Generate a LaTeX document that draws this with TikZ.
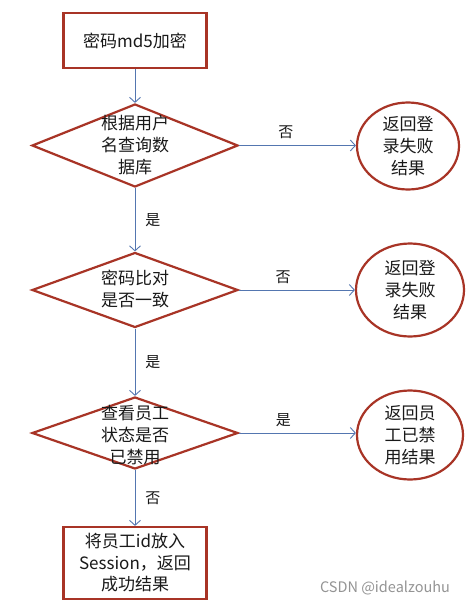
\documentclass[tikz,border=0pt]{standalone}
\usepackage{fontspec}
\setmainfont{Noto Sans CJK SC}
\usetikzlibrary{shapes.geometric,arrows.meta}
\definecolor{redline}{RGB}{168,52,38}
\definecolor{blueline}{RGB}{84,118,176}
\begin{document}
\begin{tikzpicture}[x=1pt,y=-1pt,
  every node/.style={font=\fontsize{17pt}{22pt}\selectfont, align=center, text=black!90},
  box/.style={draw=redline, line width=2.2pt, inner sep=0pt},
  dia/.style={draw=redline, line width=2.2pt, diamond, inner sep=0pt, minimum width=206pt, minimum height=83pt},
  oval/.style={draw=redline, line width=2.2pt, ellipse, inner sep=0pt},
  arr/.style={draw=blueline, line width=0.9pt, -{Straight Barb[length=5pt,width=11pt]}},
  lab/.style={font=\fontsize{15pt}{18pt}\selectfont, inner sep=2pt}
]
\useasboundingbox (0,0) rectangle (468,605);
\fill[white] (0,0) rectangle (468,605);

\node[box, minimum width=143pt, minimum height=55pt] (b1) at (135,40.5) {密码md5加密};

\node[dia] (d1) at (135,145.5) {};
\node (d1t) at (135,145) {根据用户\\名查询数\\据库};
\node[oval, minimum width=102pt, minimum height=87pt] (e1) at (408,146) {返回登\\录失败\\结果};

\node[dia, minimum height=75pt] (d2) at (135,290) {};
\node (d2t) at (135,289) {密码比对\\是否一致};
\node[oval, minimum width=108pt, minimum height=93pt] (e2) at (410,290) {返回登\\录失败\\结果};

\node[dia, minimum height=72pt] (d3) at (135,433) {};
\node (d3t) at (135,435) {查看员工\\状态是否\\已禁用};
\node[oval, minimum width=106pt, minimum height=89pt] (e3) at (410,435) {返回员\\工已禁\\用结果};

\node[box, minimum width=143pt, minimum height=72pt, font=\fontsize{17pt}{21.5pt}\selectfont] (b2) at (135,563) {将员工id放入\\Session，返回\\成功结果};

\draw[arr] (b1) -- (d1);
\draw[arr] (d1.east) -- node[lab, pos=0.4, above=4pt] {否} (e1.west |- d1.east);
\draw[arr] (d1) -- node[lab, right=8pt] {是} (d2);
\draw[arr] (d2.east) -- node[lab, pos=0.38, above=4pt] {否} (e2.west |- d2.east);
\draw[arr] (d2) -- node[lab, right=8pt] {是} (d3);
\draw[arr] (d3.east) -- node[lab, pos=0.38, above=4pt] {是} (e3.west |- d3.east);
\draw[arr] (d3) -- node[lab, right=8pt] {否} (b2);

\node[font=\fontsize{14.5pt}{16pt}\selectfont, text=black!42] (wm) at (385,588) {CSDN @idealzouhu};
\end{tikzpicture}
\end{document}
